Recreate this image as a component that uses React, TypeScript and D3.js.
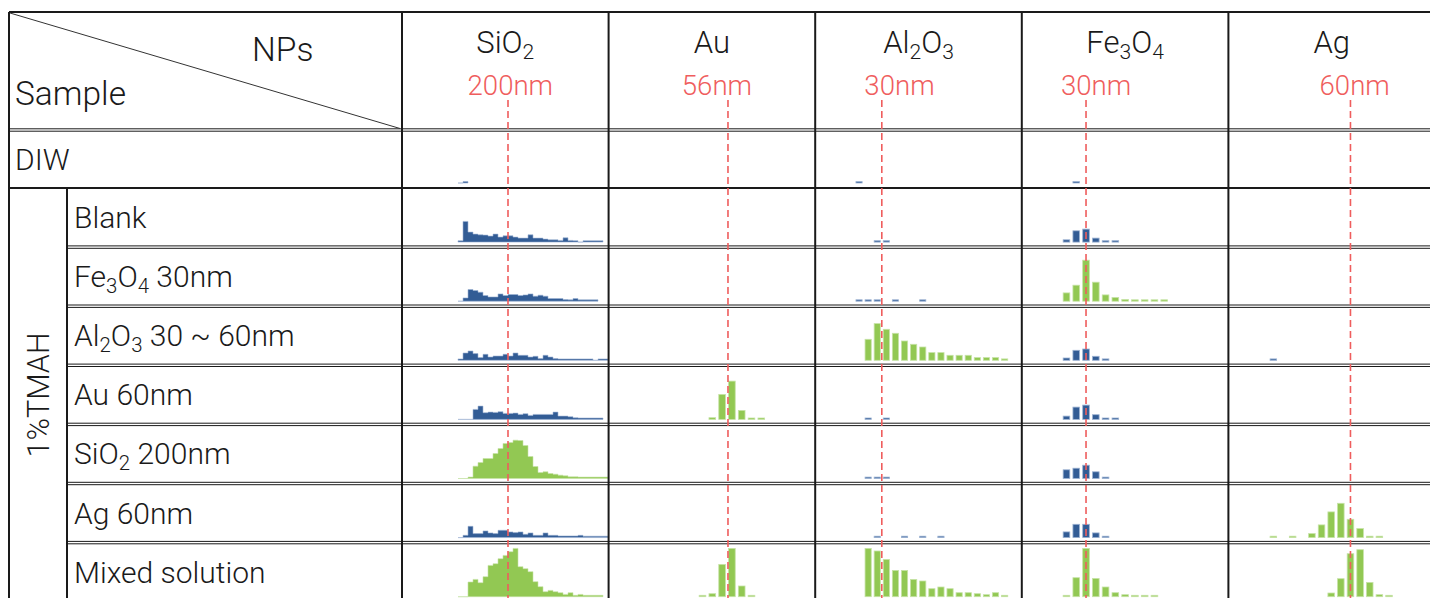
import React, { useEffect, useRef } from "react";
import * as d3 from "d3";

// nanoparticle columns and the nominal size marked by the red dashed line
const npNames = ["SiO2", "Au", "Al2O3", "Fe3O4", "Ag"];
const refSizes = [200, 56, 30, 30, 60];

// sample rows (row 0 is DIW, the rest are in 1%TMAH)
const sampleNames = [
  "DIW",
  "Blank",
  "Fe3O4 30nm",
  "Al2O3 30 ~ 60nm",
  "Au 60nm",
  "SiO2 200nm",
  "Ag 60nm",
  "Mixed solution",
];
const spikedIn = [[], [], ["Fe3O4"], ["Al2O3"], ["Au"], ["SiO2"], ["Ag"], ["SiO2", "Au", "Al2O3", "Fe3O4", "Ag"]];

// histogram bins in nm (first bin edge, bin width) for each column
const binStart = [0, 25, 0, 5, 17.5];
const binWidth = [20, 10, 10, 10, 5];

// counts per bin, one list per sample row
const sio2Counts = [
  [0, 0.3],
  [1.3, 20.7, 10, 8, 7.3, 7, 6, 8, 5, 6.3, 6.3, 5, 4, 4, 7.3, 4, 4, 3, 2.3, 2.3, 1.7, 4.3, 1.7, 0.7, 0, 1.3, 0.4, 0.4, 0.4],
  [0, 3.3, 11.7, 10.7, 9, 5.7, 4.3, 4.3, 7.3, 5.7, 6.7, 6.7, 5.7, 6.3, 7.3, 5, 6, 5, 2.7, 2.7, 2.7, 1.7, 1, 2.7, 1, 0.7, 0.3, 0.3],
  [0.7, 7.3, 9.3, 6.7, 2.7, 6, 3.3, 4.3, 4.3, 6, 4.3, 7.3, 5, 5, 3.3, 4, 1.7, 5, 3.3, 1.7, 1, 1, 0.3, 1, 0.3, 1, 0.3, 0, 0.4, 0.4],
  [0, 0, 0, 10, 13.3, 6.7, 7.3, 7, 7.7, 6, 6, 6.3, 5, 5.7, 4, 5, 5, 5, 5, 7.3, 3.3, 3.3, 2.7, 1.7, 1, 0.7, 0.7, 0.7, 0.7],
  [0, 0, 0.3, 12.3, 16, 20, 20, 25, 30, 35, 36, 38.3, 38, 33, 22, 12, 6, 6.7, 5, 4.3, 3.3, 2.7, 1.7, 1.7, 1, 0.3, 0.3, 0.3, 0.3, 0.3],
  [0, 2.3, 11.3, 4, 4, 6.7, 4.7, 4, 7.3, 7.3, 5.7, 5, 5.7, 3.3, 4.7, 2.3, 2.3, 4.7, 2.3, 2.3, 1.7, 1.7, 1.7, 1.7, 2.3, 0.7, 0.7, 0.3, 0.7, 0.7],
  [0, 0, 14.7, 17.3, 14, 20, 31.3, 33, 38, 41.3, 45, 48.3, 30, 28, 25, 15, 10, 5, 6.3, 5, 4, 2.3, 4, 1.3, 2.3, 0.7, 0.7, 0.7, 0.7],
];
const auCounts = [[], [], [], [], [0, 1.7, 25, 38.3, 9, 1, 1], [], [], [0.7, 3, 32.3, 48.3, 10.7, 1]];
const al2o3Counts = [
  [0.3],
  [0, 0, 0.3, 0.3],
  [0.3, 0.3, 0.3, 0, 0.3, 0, 0, 0.3],
  [0, 21, 36.7, 31, 27, 19.3, 16, 13.3, 7.7, 7.7, 5, 5, 5, 2.7, 2.7, 2.7, 1],
  [0, 0.3, 0, 0.3],
  [0, 0.3, 0.3, 0.3],
  [0, 0, 0.3, 0, 0, 0.3, 0, 0.3, 0, 0.3],
  [0, 48.3, 45.7, 37.3, 26.3, 26.3, 17.3, 15.7, 8, 9.7, 8, 4, 4, 3, 2, 4, 1],
];
const fe3o4Counts = [
  [0, 0.3],
  [2.3, 11.3, 13, 4, 0.3, 0.3],
  [8.3, 16, 41, 19, 6.3, 3.7, 1.7, 0.7, 0.7, 0.7, 0.7],
  [2.3, 10, 11.3, 4, 0.3],
  [3.3, 12.3, 14.3, 4.7, 0.7, 0.7],
  [8.7, 10.3, 13.3, 6.7, 0.7],
  [5.7, 13.3, 13.3, 4.7, 0.7],
  [1, 19, 48.3, 18.3, 9.7, 4, 2, 1, 1, 1],
];
const agCounts = [
  [],
  [],
  [],
  [0.3],
  [],
  [],
  [0.3, 0, 0.3, 0, 4, 12.7, 25.7, 34.3, 18.3, 9, 1, 1],
  [0, 0, 0, 0, 0, 0, 3.7, 18, 43, 47, 14.3, 2, 1],
];
const countsByCol = [sio2Counts, auCounts, al2o3Counts, fe3o4Counts, agCounts];

// layout
const W = 1430;
const H = 598;
const tableLeft = 9;
const tableTop = 12;
const firstColX = 402;
const colW = 206.6;
const groupColX = 67;
const headerBottom = 130;
const diwBottom = 188;
const rowH = 59.1;
const nmDomain = [[0, 600], [0, 140], [0, 180], [0, 160], [0, 90]];
const nmRange = [[56, 206], [64.5, 201.7], [39.3, 203.1], [34.9, 191.3], [6.4, 179.9]];
const refLabelShift = [5, 5, -19, -29, 23];

const BLUE = "#325c95";
const BLUE_EDGE = "#9db3d3";
const GREEN = "#92c853";
const GREEN_EDGE = "#c6e3a6";
const RED = "#ef5d5d";
const INK = "#1a1a1a";
const FONT = "Roboto, 'Noto Sans', sans-serif";

const chemParts = (s: string) => {
  const out: { t: string; sub: boolean }[] = [];
  const re = /([A-Za-z])(\d+)/g;
  let last = 0;
  let m: RegExpExecArray | null;
  while ((m = re.exec(s))) {
    out.push({ t: s.slice(last, m.index + 1), sub: false });
    out.push({ t: m[2], sub: true });
    last = m.index + m[0].length;
  }
  if (last < s.length) out.push({ t: s.slice(last), sub: false });
  return out;
};

const richText = (g: any, label: string, x: number, y: number, size: number, anchor: string, fill: string) => {
  const t = g
    .append("text")
    .attr("x", x)
    .attr("y", y)
    .attr("text-anchor", anchor)
    .attr("font-family", FONT)
    .attr("font-weight", 300)
    .attr("fill", fill)
    .style("white-space", "pre");
  const shift = size * 0.2;
  let inSub = false;
  chemParts(label).forEach((p) => {
    const span = t.append("tspan").text(p.t).attr("font-size", p.sub ? size * 0.68 : size);
    if (p.sub !== inSub) span.attr("dy", p.sub ? shift : -shift);
    inSub = p.sub;
  });
  return t;
};

export default function App() {
  const ref = useRef<SVGSVGElement>(null);

  useEffect(() => {
    const svg = d3.select(ref.current);
    svg.selectAll("*").remove();

    const colLeft = (j: number) => firstColX + j * colW;
    const rowTop = (r: number) => (r === 0 ? headerBottom : diwBottom + (r - 1) * rowH);
    const rowBottom = (r: number) => diwBottom + r * rowH;

    const xScales = npNames.map((_, j) =>
      d3.scaleLinear().domain(nmDomain[j]).range(nmRange[j].map((v) => colLeft(j) + v))
    );
    const hScale = d3.scaleLinear().domain([0, 50]).range([0, 50]);
    const barH = (v: number) => (v > 0 ? Math.max(hScale(v), 1.4) : 0);

    // histograms
    const plots = svg.append("g");
    sampleNames.forEach((_, r) => {
      const base = rowBottom(r) - 5;
      npNames.forEach((np, j) => {
        const counts = countsByCol[j][r];
        if (!counts.length) return;
        const green = spikedIn[r].includes(np);
        const fill = green ? GREEN : BLUE;
        const edge = green ? GREEN_EDGE : BLUE_EDGE;
        const x = xScales[j];
        const s0 = binStart[j];
        const w = binWidth[j];
        if (j === 0) {
          const pts: [number, number][] = counts.map((v, i) => [s0 + i * w, v]);
          pts.push([s0 + counts.length * w, counts[counts.length - 1]]);
          const area = d3
            .area<[number, number]>()
            .x((d) => x(d[0]))
            .y0(base)
            .y1((d) => base - barH(d[1]))
            .curve(d3.curveStepAfter);
          plots
            .append("path")
            .datum(pts)
            .attr("d", area)
            .attr("fill", fill)
            .attr("stroke", edge)
            .attr("stroke-width", 0.6);
        } else {
          const bw = (x(w) - x(0)) * 0.68;
          plots
            .append("g")
            .selectAll("rect")
            .data(counts.map((v, i) => ({ v, i })).filter((d) => d.v > 0))
            .join("rect")
            .attr("x", (d) => x(s0 + (d.i + 0.5) * w) - bw / 2)
            .attr("y", (d) => base - barH(d.v))
            .attr("width", bw)
            .attr("height", (d) => barH(d.v))
            .attr("fill", fill)
            .attr("stroke", edge)
            .attr("stroke-width", 0.8);
        }
      });
    });

    // table lines
    const lines = svg.append("g").attr("stroke", INK).attr("fill", "none");
    lines.append("line").attr("x1", tableLeft).attr("x2", W).attr("y1", tableTop).attr("y2", tableTop).attr("stroke-width", 2);
    lines.append("line").attr("x1", tableLeft).attr("x2", tableLeft).attr("y1", tableTop).attr("y2", H).attr("stroke-width", 2);
    npNames.forEach((_, j) => {
      lines
        .append("line")
        .attr("x1", colLeft(j))
        .attr("x2", colLeft(j))
        .attr("y1", tableTop)
        .attr("y2", H)
        .attr("stroke-width", 2);
    });
    [-1.2, 1.2].forEach((o) =>
      lines
        .append("line")
        .attr("x1", tableLeft)
        .attr("x2", W)
        .attr("y1", headerBottom + o)
        .attr("y2", headerBottom + o)
        .attr("stroke-width", 1)
    );
    lines.append("line").attr("x1", tableLeft).attr("x2", W).attr("y1", diwBottom).attr("y2", diwBottom).attr("stroke-width", 2);
    lines.append("line").attr("x1", groupColX).attr("x2", groupColX).attr("y1", diwBottom).attr("y2", H).attr("stroke-width", 2);
    d3.range(1, sampleNames.length - 1).forEach((r) => {
      [-1.2, 1.2].forEach((o) =>
        lines
          .append("line")
          .attr("x1", groupColX)
          .attr("x2", W)
          .attr("y1", rowBottom(r) + o)
          .attr("y2", rowBottom(r) + o)
          .attr("stroke-width", 1)
      );
    });
    lines
      .append("line")
      .attr("x1", tableLeft + 1)
      .attr("y1", tableTop + 1)
      .attr("x2", firstColX - 2)
      .attr("y2", headerBottom - 1.5)
      .attr("stroke", "#333")
      .attr("stroke-width", 1);

    // reference size lines
    npNames.forEach((_, j) => {
      svg
        .append("line")
        .attr("x1", xScales[j](refSizes[j]))
        .attr("x2", xScales[j](refSizes[j]))
        .attr("y1", 100)
        .attr("y2", H)
        .attr("stroke", RED)
        .attr("stroke-width", 1.6)
        .attr("stroke-dasharray", "7 4");
    });

    // texts
    const txt = svg.append("g");
    richText(txt, "NPs", 252, 61, 33.5, "start", INK);
    richText(txt, "Sample", 15, 105, 33.5, "start", INK);
    npNames.forEach((np, j) => {
      const cx = colLeft(j) + colW / 2;
      richText(txt, np, cx, 53, 31, "middle", INK);
      richText(txt, `${refSizes[j]}nm`, cx + refLabelShift[j], 95, 27.6, "middle", RED);
    });
    sampleNames.forEach((s, r) => {
      richText(txt, s, r === 0 ? 15 : 74, rowTop(r) + 40, 30, "start", INK);
    });
    richText(txt, "1%TMAH", 0, 0, 30.5, "middle", INK).attr(
      "transform",
      `translate(49,${(diwBottom + H + 4) / 2}) rotate(-90)`
    );
  }, []);

  return (
    <svg
      ref={ref}
      width={W}
      height={H}
      style={{ position: "absolute", left: 0, top: 0, background: "#fff" }}
    />
  );
}
